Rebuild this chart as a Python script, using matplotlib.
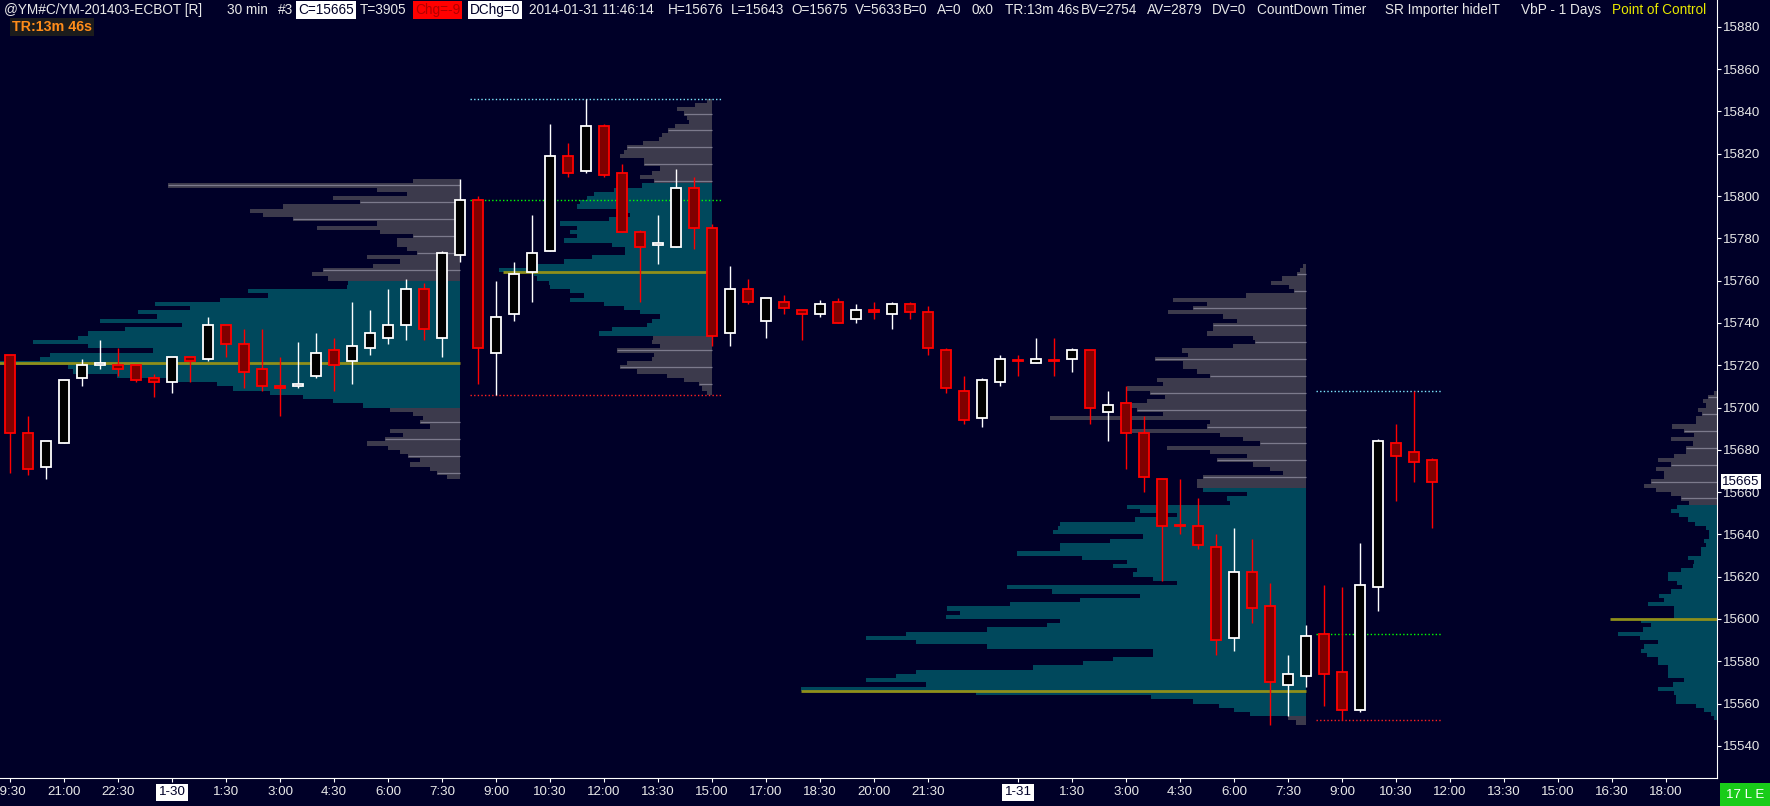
import matplotlib
matplotlib.use("Agg")
import matplotlib.pyplot as plt
from matplotlib import font_manager
from matplotlib.patches import Rectangle
import numpy as np

_names = {f.name for f in font_manager.fontManager.ttflist}
if 'Liberation Sans Narrow' in _names:
    FONT, HDR_FS, AX_FS = 'Liberation Sans Narrow', 12.0, 11.5
else:
    FONT, HDR_FS, AX_FS = 'Liberation Sans', 9.8, 9.6
plt.rcParams['font.family'] = [FONT, 'DejaVu Sans']

# 30 min bars of YM, from 1-29 19:30 to 1-31 11:30
opens = [15725, 15688, 15672, 15683, 15714, 15720, 15720, 15720, 15714, 15712,
         15724, 15723, 15739, 15730, 15718, 15710, 15710, 15715, 15727, 15722,
         15728, 15733, 15739, 15756, 15733, 15772, 15798, 15726, 15744, 15764,
         15774, 15819, 15812, 15833, 15811, 15783, 15777, 15776, 15804, 15785,
         15735, 15756, 15741, 15750, 15746, 15744, 15750, 15742, 15746, 15744,
         15749, 15745, 15727, 15708, 15695, 15712, 15722.5, 15721, 15722.5, 15723,
         15727, 15698, 15702, 15688, 15666, 15644.5, 15644, 15634, 15591, 15622,
         15606, 15569, 15573, 15593, 15575, 15557, 15615, 15683, 15679, 15675]
highs = [15725, 15696, 15684, 15713, 15723, 15732, 15728, 15720, 15716, 15724,
         15724, 15743, 15739, 15737, 15737, 15724, 15731, 15735, 15733, 15750,
         15746, 15756, 15761, 15759, 15774, 15808, 15800, 15760, 15769, 15791,
         15834, 15825, 15846, 15834, 15815, 15784, 15791, 15813, 15809, 15787,
         15767, 15761, 15752, 15753, 15746, 15751, 15752, 15749, 15750, 15750,
         15750, 15748, 15728, 15715, 15714, 15725, 15725, 15733, 15733, 15728,
         15727, 15708, 15710, 15696, 15666, 15666, 15657, 15640, 15643, 15638,
         15617, 15583, 15597, 15616, 15615, 15636, 15685, 15692, 15708, 15676]
lows = [15669, 15668, 15666, 15683, 15710, 15718, 15715, 15712, 15705, 15707,
        15712, 15722, 15724, 15709, 15708, 15696, 15709, 15714, 15708, 15711,
        15725, 15730, 15732, 15732, 15724, 15769, 15711, 15706, 15741, 15750,
        15774, 15809, 15811, 15809, 15783, 15750, 15768, 15776, 15775, 15729,
        15729, 15749, 15733, 15744, 15732, 15743, 15740, 15740, 15742, 15737,
        15742, 15725, 15707, 15692, 15691, 15710, 15715, 15721, 15715, 15717,
        15692, 15684, 15671, 15660, 15618, 15640, 15633, 15583, 15585, 15598,
        15550, 15554, 15568, 15559, 15552, 15556, 15604, 15656, 15665, 15643]
closes = [15688, 15671, 15684, 15713, 15720, 15721, 15718, 15713, 15712, 15724,
          15722, 15739, 15730, 15717, 15710, 15709, 15711, 15726, 15720, 15729,
          15735, 15739, 15756, 15737, 15773, 15798, 15728, 15743, 15763, 15773,
          15819, 15811, 15833, 15810, 15783, 15776, 15778, 15804, 15785, 15734,
          15756, 15750, 15752, 15747, 15744, 15749, 15740, 15746, 15745, 15749,
          15745, 15728, 15709, 15694, 15713, 15723, 15722, 15723, 15722, 15727,
          15700, 15701, 15688, 15667, 15644, 15644, 15635, 15590, 15622, 15605,
          15570, 15574, 15592, 15574, 15557, 15616, 15684, 15677, 15674, 15665]

tick_bars = list(range(0, 52, 3)) + list(range(56, 93, 3))
tick_labels = ['19:30', '21:00', '22:30', '1-30', '1:30', '3:00', '4:30', '6:00', '7:30',
               '9:00', '10:30', '12:00', '13:30', '15:00', '17:00', '18:30', '20:00', '21:30',
               '1-31', '1:30', '3:00', '4:30', '6:00', '7:30', '9:00', '10:30', '12:00',
               '13:30', '15:00', '16:30', '18:00']
price_ticks = list(range(15540, 15881, 20))

# volume by price, one value per 2-point row, from the top price downwards
p1_top = 15808
p1_vol = [47, 292, 83, 53, 127, 100, 177, 210, 197, 167,
          83, 143, 80, 47, 63, 63, 53, 43, 93, 60,
          87, 137, 148, 132, 112, 113, 212, 192, 240, 305,
          270, 322, 303, 360, 278, 335, 372, 382, 427, 372,
          307, 410, 420, 480, 392, 387, 343, 287, 243, 227,
          190, 157, 127, 97, 70, 47, 37, 40, 30, 70,
          57, 75, 93, 72, 60, 52, 40, 50, 30, 23, 13]
p1_va = (15700, 15759)
p1_poc, p1_poc_vol = 15721, 480

p2_top = 15846
p2_vol = [5, 17, 35, 28, 25, 23, 37, 44, 50, 53,
          69, 85, 88, 92, 68, 68, 52, 60, 72, 58,
          70, 98, 118, 125, 132, 135, 95, 82, 103, 152,
          135, 142, 135, 148, 100, 87, 87, 120, 148, 185,
          213, 178, 175, 163, 162, 142, 128, 142, 108, 88,
          72, 52, 60, 65, 100, 113, 59, 60, 52, 95,
          58, 60, 85, 92, 75, 45, 28, 13, 10, 5]
p2_va = (15735, 15806)
p2_poc, p2_poc_vol = 15764, 209

p3_top = 15768
p3_vol = [3, 6, 9, 24, 35, 17, 12, 60, 133, 99,
          113, 138, 83, 69, 93, 93, 99, 53, 51, 73,
          124, 118, 151, 123, 123, 109, 96, 149, 143, 179,
          156, 141, 159, 176, 169, 143, 256, 96, 99, 174,
          86, 63, 46, 139, 96, 59, 89, 53, 36, 23,
          103, 109, 109, 103, 59, 79, 76, 179, 166, 129,
          171, 246, 248, 253, 163, 196, 246, 246, 289, 224,
          179, 193, 169, 173, 153, 129, 299, 254, 166, 226,
          296, 359, 346, 360, 246, 259, 319, 400, 440, 390,
          319, 153, 153, 193, 223, 273, 390, 410, 440, 380,
          505, 330, 155, 113, 87, 72, 56, 18, 10]
p3_va = (15554, 15661)
p3_poc, p3_poc_vol = 15566, 505

p4_top = 15708
p4_vol = [3, 9, 14, 11, 19, 15, 21, 21, 45, 33,
          23, 46, 24, 31, 31, 43, 59, 46, 61, 53,
          53, 66, 73, 61, 46, 36, 28, 40, 46, 38,
          29, 22, 11, 8, 8, 13, 11, 16, 16, 29,
          23, 24, 36, 49, 49, 40, 35, 46, 58, 53,
          69, 43, 43, 43, 76, 66, 74, 99, 77, 59,
          73, 76, 70, 59, 59, 49, 49, 49, 33, 44,
          59, 43, 41, 41, 21, 13, 6, 3]
p4_va = (15552, 15653)
p4_poc, p4_poc_vol = 15600, 107

# day sessions (first bar, last bar) that get high / open / low lines
rth_sessions = [(26, 39), (73, 79)]

BG = '#000028'
TEAL = '#00485c'
GRAY = '#3c3a4c'
LIGHT = '#7c7a8c'
POC = '#8f8f1a'
TXT = '#e8e8e8'
VOL_PER_BAR = 18.0

W, H = 1770, 806
fig = plt.figure(figsize=(W / 100, H / 100), dpi=100, facecolor=BG)
ax = fig.add_axes([0, 28 / H, 1717 / W, 778 / H])
ax.set_facecolor(BG)
x_right = (1717 - 10) / 18
ax.set_xlim(-10 / 18, x_right)
ax.set_ylim(15524.8, 15892.7)


def draw_profile(top, vols, va, poc, poc_vol, right, hl_off):
    vols = np.asarray(vols, float)
    k = np.arange(len(vols))
    bottoms = top - 2 * (k + 1)
    centers = bottoms + 1
    widths = vols / VOL_PER_BAR
    in_va = (centers >= va[0]) & (centers <= va[1])
    cols = np.where(in_va, TEAL, GRAY)
    ax.barh(bottoms, widths, height=2, left=right - widths, align='edge',
            color=cols, linewidth=0, zorder=1)
    hl = (~in_va) & (k % 4 == hl_off)
    ax.hlines(centers[hl], right - widths[hl], right, colors=LIGHT, lw=0.9, zorder=1.5)
    ax.hlines(poc, right - poc_vol / VOL_PER_BAR, right, colors=POC, lw=2.0, zorder=2)


draw_profile(p1_top, p1_vol, p1_va, p1_poc, p1_poc_vol, 25, 1)
draw_profile(p2_top, p2_vol, p2_va, p2_poc, p2_poc_vol, 39, 3)
draw_profile(p3_top, p3_vol, p3_va, p3_poc, p3_poc_vol, 72, 2)
draw_profile(p4_top, p4_vol, p4_va, p4_poc, p4_poc_vol, x_right, 1)

o = np.array(opens, float)
hi = np.array(highs, float)
lo = np.array(lows, float)
c = np.array(closes, float)
xb = np.arange(len(o))

dots = (0, (1, 1.6))
for a, b in rth_sessions:
    s = slice(a, b + 1)
    ax.hlines(hi[s].max(), a - 0.45, b + 0.5, colors='#7fe8ff', lw=1.0, linestyles=dots, zorder=3)
    ax.hlines(o[a], a - 0.45, b + 0.5, colors='#00ff00', lw=1.0, linestyles=dots, zorder=3)
    ax.hlines(lo[s].min(), a - 0.45, b + 0.5, colors='#ff2020', lw=1.0, linestyles=dots, zorder=3)

up = c >= o
body_lo = np.minimum(o, c)
body_h = np.maximum(np.abs(c - o), 0.6)
for m, wick, face in [(up, 'white', 'black'), (~up, '#ff0000', '#800000')]:
    ax.vlines(xb[m], lo[m], hi[m], colors=wick, lw=1.0, zorder=4)
    ax.bar(xb[m], body_h[m], width=0.52, bottom=body_lo[m], facecolor=face,
           edgecolor=wick, linewidth=1.3, zorder=5)

# axes, ticks
for sp in ['top', 'left']:
    ax.spines[sp].set_visible(False)
for sp in ['bottom', 'right']:
    ax.spines[sp].set_color('white')
    ax.spines[sp].set_linewidth(0.8)
ax.yaxis.tick_right()
ax.set_yticks(price_ticks)
ax.set_yticklabels([str(p) for p in price_ticks])
ax.set_xticks(tick_bars)
ax.set_xticklabels(tick_labels)
ax.tick_params(axis='x', colors='white', length=3, width=0.8, pad=3, labelsize=AX_FS, labelcolor=TXT)
ax.tick_params(axis='y', colors='white', length=3, width=0.8, pad=1.5, labelsize=AX_FS, labelcolor=TXT)
for lbl in ax.get_xticklabels():
    if '-' in lbl.get_text():
        lbl.set_color(BG)
        lbl.set_bbox(dict(facecolor='white', edgecolor='none', pad=1.6))

# last price marker
ax.text(1.003, c[-1], f'{int(c[-1])}', transform=ax.get_yaxis_transform(), ha='left', va='center',
        fontsize=AX_FS, color=BG, bbox=dict(facecolor='white', edgecolor='none', pad=1.0), zorder=10,
        clip_on=False)


# header line
def fx(px):
    return px / W


def fy(py):
    return 1 - py / H


hy = fy(10)
tokens = [(4, '@YM#C/YM-201403-ECBOT [R]'), (227, '30 min'), (278, '#3'), (360, 'T=3905'),
          (529, '2014-01-31 11:46:14'), (668, 'H=15676'), (731, 'L=15643'), (791, 'O=15675'),
          (855, 'V=5633'), (903, 'B=0'), (937, 'A=0'), (971, '0x0'), (1005, 'TR:13m 46s'),
          (1081, 'BV=2754'), (1147, 'AV=2879'), (1212, 'DV=0'), (1257, 'CountDown Timer'),
          (1385, 'SR Importer'), (1462, 'hideIT'), (1521, 'VbP - 1 Days')]
for px, t in tokens:
    fig.text(fx(px), hy, t, ha='left', va='center', fontsize=HDR_FS, color=TXT)
fig.text(fx(1612), hy, 'Point of Control', ha='left', va='center', fontsize=HDR_FS, color='#e8e800')
for px, t, bg, fg in [(298, 'C=15665', 'white', BG), (415, 'Chg=-9', '#ff0000', '#b00000'),
                      (470, 'DChg=0', 'white', BG)]:
    fig.text(fx(px), hy, t, ha='left', va='center', fontsize=HDR_FS, color=fg,
             bbox=dict(facecolor=bg, edgecolor='none', pad=1.5))
fig.text(fx(12), fy(27), 'TR:13m 46s', ha='left', va='center', fontsize=HDR_FS + 0.5, color='#ff8c1a',
         fontweight='bold', bbox=dict(facecolor='#1c1c1c', edgecolor='none', pad=1.5))

# status box bottom right
fig.patches.append(Rectangle((fx(1720), 0), fx(1770) - fx(1720), 23 / H, transform=fig.transFigure,
                             facecolor='#19cc19', edgecolor='none'))
fig.text(fx(1745), 11.5 / H, '17 L E', ha='center', va='center', fontsize=AX_FS, color='white')

fig.savefig('out.png', dpi=100, facecolor=BG)
